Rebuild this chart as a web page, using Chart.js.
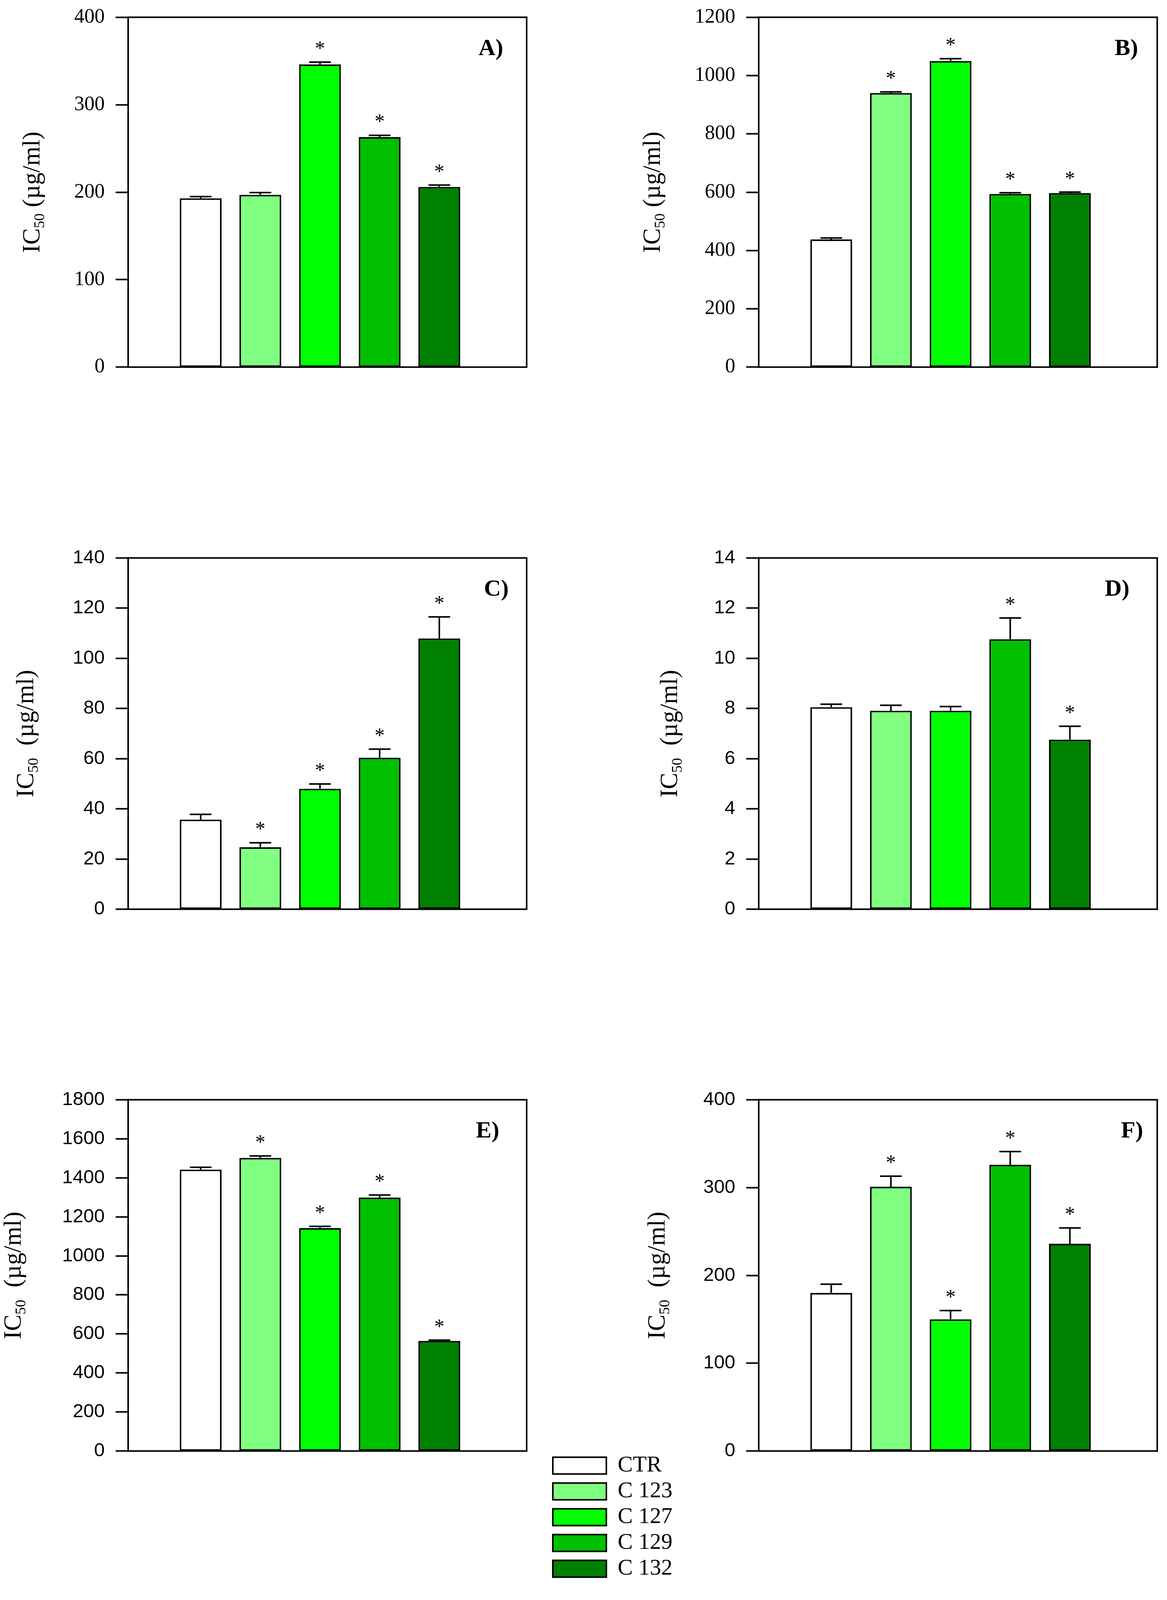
<!DOCTYPE html>
<html>
<head>
<meta charset="utf-8">
<script src="https://cdn.jsdelivr.net/npm/chart.js@4.4.0/dist/chart.umd.min.js"></script>
<style>
html, body { margin: 0; padding: 0; background: #fff; overflow: hidden; }
#fig { position: relative; background: #fff; overflow: hidden; }
canvas { position: absolute; }
</style>
</head>
<body>
<div id="fig"></div>
<script>
// groups, same order in every panel
const categories = ['CTR', 'C 123', 'C 127', 'C 129', 'C 132'];
const colors = ['#ffffff', '#80ff80', '#00ff00', '#00c000', '#008000'];
const positions = [1, 2, 3, 4, 5];

// IC50 means, SE and significance (1 = asterisk)
const meanA = [193, 197, 346, 263, 206];
const errA  = [2, 2.5, 2.7, 2, 2.2];
const sigA  = [0, 0, 1, 1, 1];
const ticksA = [0, 100, 200, 300, 400];

const meanB = [438, 940, 1050, 594, 597];
const errB  = [5, 4, 8, 4, 3.5];
const sigB  = [0, 1, 1, 1, 1];
const ticksB = [0, 200, 400, 600, 800, 1000, 1200];

const meanC = [35.7, 24.7, 48.0, 60.4, 107.9];
const errC  = [2.1, 1.8, 1.9, 3.4, 8.6];
const sigC  = [0, 1, 1, 1, 1];
const ticksC = [0, 20, 40, 60, 80, 100, 120, 140];

const meanD = [8.05, 7.91, 7.91, 10.76, 6.76];
const errD  = [0.12, 0.22, 0.17, 0.85, 0.53];
const sigD  = [0, 0, 0, 1, 1];
const ticksD = [0, 2, 4, 6, 8, 10, 12, 14];

const meanE = [1442, 1502, 1142, 1299, 564];
const errE  = [12, 10, 9, 13, 4];
const sigE  = [0, 1, 1, 1, 1];
const ticksE = [0, 200, 400, 600, 800, 1000, 1200, 1400, 1600, 1800];

const meanF = [180, 301, 150, 326, 236];
const errF  = [10, 12, 10, 15, 18];
const sigF  = [0, 1, 1, 1, 1];
const ticksF = [0, 100, 200, 300, 400];

// figure is laid out for 2987x4523 and squeezed to whatever viewport we get
const W0 = 2987, H0 = 4523;
const SX = Math.min(1, (window.innerWidth || W0) / W0);
const SY = Math.min(1, (window.innerHeight || H0) / H0);

const FW = 1020, FH = 1020;
const PADL = 340, PADT = 50, PADR = 40, PADB = 50;
const SERIF = 'Liberation Serif', SANS = 'Liberation Sans';

const panels = [
  {name: 'A', mean: meanA, err: errA, sig: sigA, ticks: ticksA, left: 328,  top: 33,   font: SERIF, titleOff: 250, labelInset: 60, gap: ' '},
  {name: 'B', mean: meanB, err: errB, sig: sigB, ticks: ticksB, left: 1942, top: 33,   font: SERIF, titleOff: 276, labelInset: 49, gap: ' '},
  {name: 'C', mean: meanC, err: errC, sig: sigC, ticks: ticksC, left: 328,  top: 1564, font: SANS,  titleOff: 266, labelInset: 46, gap: '  '},
  {name: 'D', mean: meanD, err: errD, sig: sigD, ticks: ticksD, left: 1942, top: 1564, font: SANS,  titleOff: 232, labelInset: 71, gap: '  '},
  {name: 'E', mean: meanE, err: errE, sig: sigE, ticks: ticksE, left: 328,  top: 3095, font: SANS,  titleOff: 298, labelInset: 70, gap: '  '},
  {name: 'F', mean: meanF, err: errF, sig: sigF, ticks: ticksF, left: 1942, top: 3095, font: SANS,  titleOff: 264, labelInset: 36, gap: '  '}
];

const fig = document.getElementById('fig');
fig.style.width = Math.round(W0 * SX) + 'px';
fig.style.height = Math.round(H0 * SY) + 'px';

function addCanvas(left, top, w, h) {
  const c = document.createElement('canvas');
  w = Math.round(w); h = Math.round(h);
  c.width = w; c.height = h;
  c.style.left = Math.round(left) + 'px'; c.style.top = Math.round(top) + 'px';
  c.style.width = w + 'px'; c.style.height = h + 'px';
  fig.appendChild(c);
  return c;
}

function makePanel(p) {
  const canvas = addCanvas((p.left - PADL) * SX, (p.top - PADT) * SY,
                           (PADL + FW + PADR) * SX, (PADT + FH + PADB) * SY);

  // frame, error bars, asterisks, panel letter, y title
  const deco = {
    id: 'deco' + p.name,
    afterDatasetsDraw(chart) {
      const ctx = chart.ctx, a = chart.chartArea, y = chart.scales.y;
      const meta = chart.getDatasetMeta(0);
      ctx.save();
      ctx.strokeStyle = '#000';
      ctx.fillStyle = '#000';
      ctx.lineWidth = 4;
      meta.data.forEach((bar, i) => {
        const capY = y.getPixelForValue(p.mean[i] + p.err[i]);
        const half = bar.width * 0.26;
        ctx.beginPath();
        ctx.moveTo(bar.x, bar.y);
        ctx.lineTo(bar.x, capY);
        ctx.moveTo(bar.x - half, capY);
        ctx.lineTo(bar.x + half, capY);
        ctx.stroke();
        if (p.sig[i]) {
          ctx.font = '52px "' + SERIF + '"';
          ctx.textAlign = 'center';
          ctx.textBaseline = 'alphabetic';
          ctx.fillText('*', bar.x, capY - 20 * SY);
        }
      });
      ctx.lineWidth = 4;
      ctx.strokeRect(a.left, a.top, a.right - a.left, a.bottom - a.top);

      ctx.font = 'bold 60px "' + SERIF + '"';
      ctx.textAlign = 'right';
      ctx.textBaseline = 'alphabetic';
      ctx.fillText(p.name + ')', a.right - p.labelInset * SX, a.top + 107 * SY);

      ctx.translate(a.left - p.titleOff * SX, (a.top + a.bottom) / 2);
      ctx.rotate(-Math.PI / 2);
      const fMain = Math.round(70 * SY) + 'px "' + SERIF + '"';
      const fSub = Math.round(42 * SY) + 'px "' + SERIF + '"';
      const rest = p.gap + '(\u00b5g/ml)';
      ctx.font = fMain; const w1 = ctx.measureText('IC').width, w3 = ctx.measureText(rest).width;
      ctx.font = fSub; const w2 = ctx.measureText('50').width;
      let x = -(w1 + w2 + w3) / 2;
      ctx.textAlign = 'left';
      ctx.font = fMain; ctx.fillText('IC', x, 23); x += w1;
      ctx.font = fSub; ctx.fillText('50', x, 35); x += w2;
      ctx.font = fMain; ctx.fillText(rest, x, 23);
      ctx.restore();
    }
  };

  new Chart(canvas, {
    type: 'bar',
    data: {
      datasets: [{
        label: 'IC50',
        data: p.mean.map((v, i) => ({x: positions[i], y: v})),
        backgroundColor: colors,
        borderColor: '#000',
        borderWidth: 4,
        borderSkipped: false,
        barPercentage: 0.7,
        categoryPercentage: 1.0
      }]
    },
    options: {
      responsive: false,
      animation: false,
      layout: {padding: {left: 0, top: PADT * SY, right: PADR * SX, bottom: PADB * SY}},
      plugins: {legend: {display: false}, tooltip: {enabled: false}},
      scales: {
        x: {
          type: 'linear', display: false, offset: false, min: -0.2155, max: 6.464,
          afterBuildTicks: (s) => { s.ticks = positions.map(v => ({value: v})); }
        },
        y: {
          min: 0,
          max: p.ticks[p.ticks.length - 1],
          afterBuildTicks: (s) => { s.ticks = p.ticks.map(v => ({value: v})); },
          afterFit: (s) => { s.width = Math.round(PADL * SX); },
          ticks: {font: {family: p.font, size: p.font === SERIF ? 52 : 49},
                  color: '#000', padding: 28 * SX, callback: (v) => String(v)},
          grid: {drawOnChartArea: false, drawTicks: true, tickLength: 32 * SX, tickWidth: 4, tickColor: '#000'},
          border: {display: true, color: '#000', width: 4}
        }
      }
    },
    plugins: [deco]
  });
}

panels.forEach(makePanel);

// shared legend below the panels
const LEG_FONT = 58;
const legBoxH = Math.round(47 * SY);
const legPad = Math.max(2, Math.round(73 * SY - LEG_FONT));
const legTop = 4119 * SY - legPad - (LEG_FONT - legBoxH) / 2;
const legCanvas = addCanvas(1407 * SX, legTop, 600 * SX, H0 * SY - legTop);
new Chart(legCanvas, {
  type: 'bar',
  data: {
    labels: [],
    datasets: categories.map((c, i) => ({
      label: c, data: [], backgroundColor: colors[i], borderColor: '#000', borderWidth: 4
    }))
  },
  options: {
    responsive: false,
    animation: false,
    layout: {padding: 0},
    scales: {x: {display: false}, y: {display: false}},
    plugins: {
      tooltip: {enabled: false},
      legend: {
        position: 'left',
        align: 'start',
        maxWidth: Math.round(600 * SX),
        labels: {font: {family: SERIF, size: LEG_FONT}, color: '#000',
                 boxWidth: Math.round(137 * SX), boxHeight: legBoxH, padding: legPad}
      }
    }
  }
});
</script>
</body>
</html>
